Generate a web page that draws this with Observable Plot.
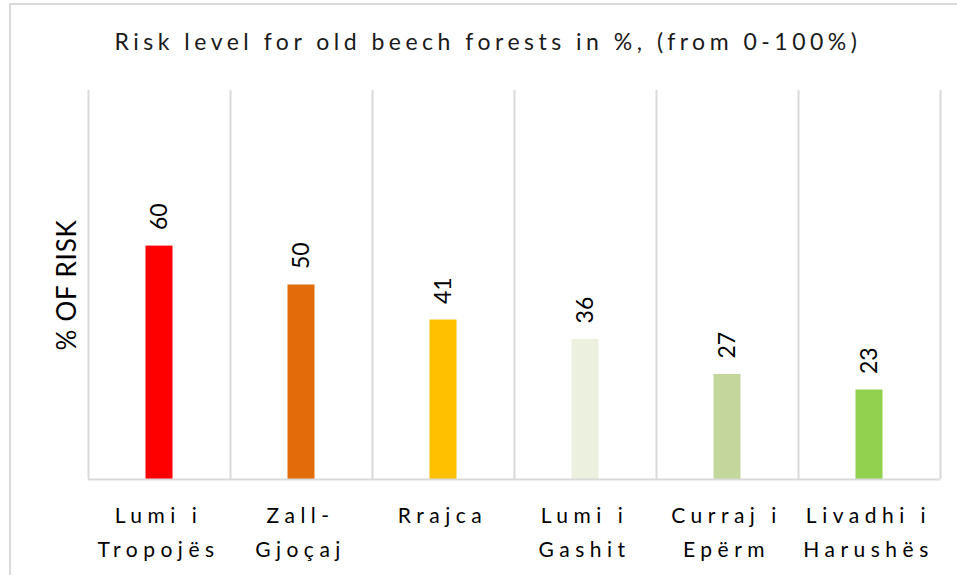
<!DOCTYPE html>
<html>
<head>
<meta charset="utf-8">
<script src="https://cdn.jsdelivr.net/npm/d3@7"></script>
<script src="https://cdn.jsdelivr.net/npm/@observablehq/plot@0.6"></script>
<style>
  html, body { margin: 0; padding: 0; background: #fff; }
  #wrap { position: relative; width: 957px; height: 575px; overflow: hidden; font-family: Lato, "Open Sans", sans-serif; }
  #frame { position: absolute; left: 9px; top: 3px; width: 1000px; height: 700px; border-left: 2px solid #d9d9d9; border-top: 2px solid #d9d9d9; }
  #title { position: absolute; left: 0; width: 976px; top: 27px; text-align: center; font-size: 23px; letter-spacing: 4.5px; color: #1a1a1a; }
  #ylabel { position: absolute; left: 66px; top: 285px; transform: translate(-50%, -50%) rotate(-90deg); white-space: nowrap; font-size: 26px; letter-spacing: 0.8px; color: #000; }
  #chart { position: absolute; left: 0; top: 0; }
</style>
</head>
<body>
<div id="wrap">
  <div id="frame"></div>
  <div id="chart"></div>
  <div id="title">Risk level for old beech forests in %, (from 0-100%)</div>
  <div id="ylabel">% OF RISK</div>
</div>
<script>
const categories = ["Lumi i Tropojës", "Zall-Gjoçaj", "Rrajca", "Lumi i Gashit", "Curraj i Epërm", "Livadhi i Harushës"];
const tickLabels = ["Lumi i\nTropojës", "Zall-\nGjoçaj", "Rrajca", "Lumi i\nGashit", "Curraj i\nEpërm", "Livadhi i\nHarushës"];
const riskValues = [60, 50, 41, 36, 27, 23];
const barColors = ["#FF0000", "#E36C0A", "#FFC000", "#EBF1DE", "#C3D69B", "#92D050"];

const data = categories.map((c, i) => ({category: c, value: riskValues[i], color: barColors[i], label: tickLabels[i]}));

const W = 957, H = 575, mL = 88, mR = 17, mT = 90, mB = 96;
const step = (W - mL - mR) / categories.length;
const barW = 27;
const inset = (step - barW) / 2;

const plot = Plot.plot({
  width: W,
  height: H,
  marginLeft: mL,
  marginRight: mR,
  marginTop: mT,
  marginBottom: mB,
  style: {fontFamily: "Lato, 'Open Sans', sans-serif", background: "transparent", overflow: "visible"},
  x: {type: "band", domain: categories, padding: 0, axis: null},
  y: {domain: [0, 100], axis: null},
  color: {type: "identity"},
  marks: [
    Plot.ruleX(categories, {x: d => d, dx: -step / 2, y1: 0, y2: 100, stroke: "#d9d9d9", strokeWidth: 2}),
    Plot.ruleX(categories.slice(-1), {x: d => d, dx: step / 2, y1: 0, y2: 100, stroke: "#d9d9d9", strokeWidth: 2}),
    Plot.barY(data, {x: "category", y: "value", fill: "color", insetLeft: inset, insetRight: inset}),
    Plot.ruleY([0], {stroke: "#d9d9d9", strokeWidth: 2}),
    Plot.text(data, {x: "category", y: "value", text: d => String(d.value), rotate: -90, textAnchor: "start", dy: -16, fontSize: 23, fill: "#000"}),
    Plot.text(data, {x: "category", frameAnchor: "bottom", text: "label", lineAnchor: "top", dy: 20, dx: -1, lineHeight: 1.6, fontSize: 21, fill: "#000"})
  ]
});
// widen letter spacing of the category labels (last text mark)
const textGroups = plot.querySelectorAll('g[aria-label="text"]');
if (textGroups.length) {
  const g = textGroups[textGroups.length - 1];
  g.setAttribute("letter-spacing", "5.5");
  g.style.letterSpacing = "5.5px";
  g.querySelectorAll("text, tspan").forEach(t => t.style.letterSpacing = "5.5px");
}
document.getElementById("chart").appendChild(plot);
</script>
</body>
</html>
